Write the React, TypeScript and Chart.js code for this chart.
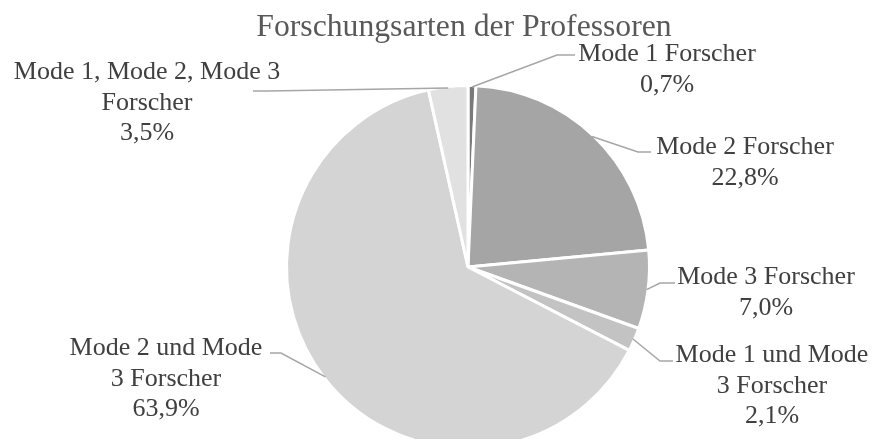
import React, { useEffect, useRef } from 'react';
import { Chart, registerables } from 'chart.js';

Chart.register(...registerables);

// ---- data ----
const chartTitle = 'Forschungsarten der Professoren';
const categories = [
  'Mode 1 Forscher',
  'Mode 2 Forscher',
  'Mode 3 Forscher',
  'Mode 1 und Mode 3 Forscher',
  'Mode 2 und Mode 3 Forscher',
  'Mode 1, Mode 2, Mode 3 Forscher',
];
const shares = [0.7, 22.8, 7.0, 2.1, 63.9, 3.5];
const labelLines = [
  ['Mode 1 Forscher'],
  ['Mode 2 Forscher'],
  ['Mode 3 Forscher'],
  ['Mode 1 und Mode', '3 Forscher'],
  ['Mode 2 und Mode', '3 Forscher'],
  ['Mode 1, Mode 2, Mode 3', 'Forscher'],
];
const sliceColors = ['#7a7a7a', '#a5a5a5', '#b4b4b4', '#c3c3c3', '#d4d4d4', '#e1e1e1'];

// ---- label layout (text centre x, first baseline y, elbow, end of leader) ----
const labelLayout = [
  { cx: 667, by: 61, ex: 557, ey: 55, tx: 575, ty: 55 },
  { cx: 745, by: 154, ex: 638, ey: 152, tx: 651, ty: 152 },
  { cx: 766, by: 284, ex: 660, ey: 283, tx: 675, ty: 283 },
  { cx: 772, by: 362, ex: 660, ey: 361, tx: 673, ty: 361 },
  { cx: 166, by: 355, ex: 281, ey: 353, tx: 270, ty: 353 },
  { cx: 147, by: 79, ex: 268, ey: 91, tx: 253, ty: 91 },
];

const fmtPct = (v: number) => v.toFixed(1).replace('.', ',') + '%';

const labelPlugin = {
  id: 'pieLabels',
  afterDatasetsDraw(chart: any) {
    const ctx = chart.ctx as CanvasRenderingContext2D;
    const meta = chart.getDatasetMeta(0);
    ctx.save();
    // title
    ctx.font = '31.7px "Liberation Serif"';
    ctx.fillStyle = '#595959';
    ctx.textAlign = 'center';
    ctx.textBaseline = 'alphabetic';
    ctx.fillText(chartTitle, 464, 36);

    meta.data.forEach((arc: any, i: number) => {
      const p = arc.getProps(['x', 'y', 'startAngle', 'endAngle', 'outerRadius'], true);
      const mid = (p.startAngle + p.endAngle) / 2;
      const r = p.outerRadius - 1.5;
      const sx = p.x + Math.cos(mid) * r;
      const sy = p.y + Math.sin(mid) * r;
      const L = labelLayout[i];
      ctx.beginPath();
      ctx.strokeStyle = '#a6a6a6';
      ctx.lineWidth = 1.5;
      ctx.moveTo(sx, sy);
      ctx.lineTo(L.ex, L.ey);
      ctx.lineTo(L.tx, L.ty);
      ctx.stroke();

      const lines = [...labelLines[i], fmtPct(shares[i])];
      ctx.font = '26px "Liberation Serif"';
      ctx.fillStyle = '#404040';
      ctx.textAlign = 'center';
      lines.forEach((t, k) => ctx.fillText(t, L.cx, L.by + k * 30.5));
    });
    ctx.restore();
  },
};

export default function App() {
  const ref = useRef<HTMLCanvasElement | null>(null);
  useEffect(() => {
    if (!ref.current) return;
    const chart = new Chart(ref.current, {
      type: 'pie',
      data: {
        labels: categories,
        datasets: [
          {
            data: shares,
            backgroundColor: sliceColors,
            borderColor: '#ffffff',
            borderWidth: 3,
          },
        ],
      },
      options: {
        animation: false,
        responsive: true,
        maintainAspectRatio: false,
        radius: 181.5,
        layout: { padding: { left: 61, right: 0, top: 74, bottom: 0 } },
        plugins: {
          legend: { display: false },
          tooltip: { enabled: false },
          title: { display: false },
        },
      } as any,
      plugins: [labelPlugin],
    });
    return () => chart.destroy();
  }, []);

  return (
    <div style={{ position: 'fixed', left: 0, top: 0, width: 875, height: 439, overflow: 'hidden', background: '#fff' }}>
      <div style={{ position: 'relative', width: 875, height: 460 }}>
        <canvas ref={ref} />
      </div>
    </div>
  );
}
